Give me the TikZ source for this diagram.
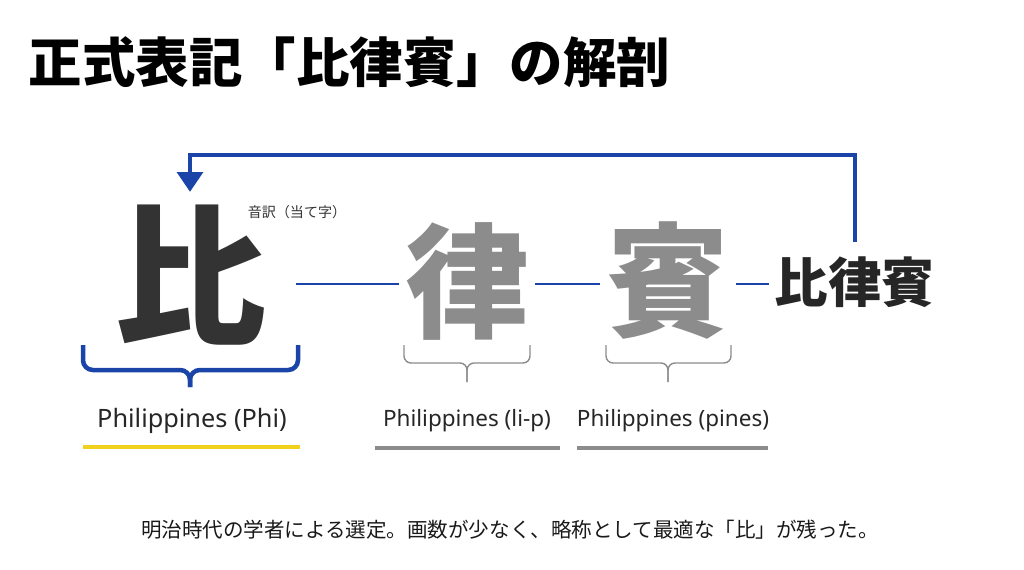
\documentclass[tikz,border=0pt]{standalone}
\usepackage{fontspec}
\setmainfont{Noto Sans}
\newfontfamily\cjk{Noto Sans CJK JP}
\usetikzlibrary{arrows.meta}
\definecolor{mblue}{HTML}{1A44A8}
\definecolor{mgray}{HTML}{8C8C8C}
\definecolor{mdark}{HTML}{333333}
\definecolor{myellow}{HTML}{F0D21E}

\begin{document}
\begin{tikzpicture}[x=0.025cm, y=-0.025cm,
    kanji/.style={inner sep=2pt, inner xsep=4pt, text=mgray, font=\cjk\bfseries\fontsize{88}{88}\selectfont},
    link/.style={draw=mblue, line width=1pt},
    back/.style={draw=mblue, line width=3.2pt, -{Triangle[width=18pt,length=14pt]}},
    reading/.style={text=black!85, font=\fontsize{16}{18}\selectfont},
    graybrace/.style={draw=mgray, line width=1pt, rounded corners=5pt},
    grayline/.style={draw=black!45, line width=2.8pt}]
    \useasboundingbox (0,0) rectangle (1024,570);

    \node [anchor=west, font=\cjk\bfseries\fontsize{38}{40}\selectfont] (title) at (24,62) {正式表記「比律賓」の解剖};

    \coordinate (top) at (0,155);
    \coordinate (mid) at (0,284);

    \node [kanji, inner xsep=21pt, text=mdark, font=\cjk\bfseries\fontsize{108}{108}\selectfont] (hi) at (190,275) {比};
    \node [kanji] (ritsu) at (467,281) {律};
    \node [kanji] (hin) at (668,281) {賓};
    \node [kanji, text=black!85, font=\cjk\bfseries\fontsize{38}{40}\selectfont] (word) at (855,282) {比律賓};
    \node [text=mdark, font=\cjk\fontsize{10}{12}\selectfont] (note) at (297,212) {音訳（当て字）};

    \draw [link] (hi.east |- mid) -- (ritsu.west |- mid);
    \draw [link] (ritsu.east |- mid) -- (hin.west |- mid);
    \draw [link] (hin.east |- mid) -- (word.west |- mid);

    \draw [back, shorten <=8pt, shorten >=7pt] (word.north) -- (word.north |- top) -| (hi.north);

    % braces under the characters
    \draw [draw=mblue, line width=3.2pt, rounded corners=7pt] (83,345) |- (190,370) -- (190,387);
    \draw [draw=mblue, line width=3.2pt, rounded corners=7pt] (298,345) |- (190,370) -- (190,387);
    \draw [graybrace] (404,345) |- (467,363) -- (467,382);
    \draw [graybrace] (530,345) |- (467,363) -- (467,382);
    \draw [graybrace] (606,345) |- (668,363) -- (668,382);
    \draw [graybrace] (731,345) |- (668,363) -- (668,382);

    \node [reading, font=\fontsize{18}{20}\selectfont] (lphi) at (192,421) {Philippines (Phi)};
    \node [reading] (lli) at (467,421) {Philippines (li-p)};
    \node [reading] (lpines) at (673,421) {Philippines (pines)};

    \draw [myellow, line width=2.4pt] (83,447) -- (300,447);
    \draw [grayline] (375,448) -- (560,448);
    \draw [grayline] (577,448) -- (768,448);

    \node [text=black!90, font=\cjk\fontsize{14.6}{16}\selectfont] (caption) at (510,530) {明治時代の学者による選定。画数が少なく、略称として最適な「比」が残った。};
  \end{tikzpicture}
\end{document}
